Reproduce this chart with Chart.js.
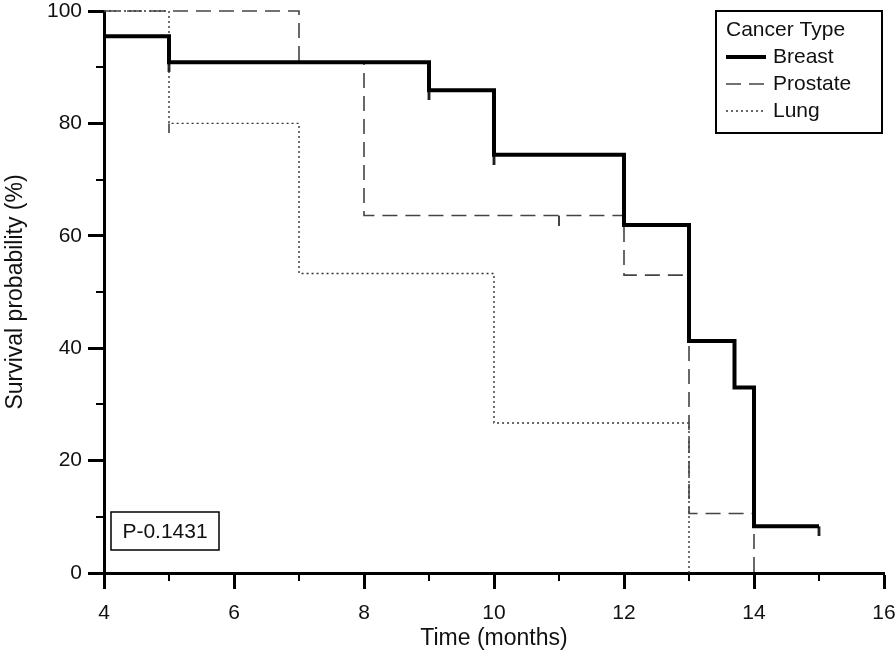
<!DOCTYPE html>
<html lang="en">
<head>
    <meta charset="UTF-8">
    <title>Survival by Cancer Type</title>
    <script src="https://cdn.jsdelivr.net/npm/chart.js"></script>
    <style>
        body { margin: 0; background: #fff; }
    </style>
</head>
<body>
    <canvas id="myChart" width="896" height="656"></canvas>
    <script>
        // Kaplan-Meier steps (time in months, survival %)
        const breastTime = [4, 5, 9, 10, 12, 13, 13.7, 14, 15];
        const breastSurv = [95.5, 90.9, 85.9, 74.4, 61.9, 41.3, 33.0, 8.3, 8.3];
        const prostateTime = [4, 7, 8, 12, 13, 14];
        const prostateSurv = [100, 90.9, 63.6, 53.0, 10.6, 0];
        const lungTime = [4, 5, 7, 10, 13];
        const lungSurv = [100, 80, 53.3, 26.7, 0];

        // censored observations (time only, y taken from the curve)
        const breastCensor = [5, 9, 10, 15];
        const prostateCensor = [11];
        const lungCensor = [5];

        const xMajorTicks = [4, 6, 8, 10, 12, 14, 16];
        const xMinorTicks = [5, 7, 9, 11, 13, 15];
        const yMajorTicks = [0, 20, 40, 60, 80, 100];
        const yMinorTicks = [10, 30, 50, 70, 90];

        const pValueText = 'P-0.1431';
        const legendTitle = 'Cancer Type';
        const FONT = '"Liberation Sans", Arial, sans-serif';

        const toPoints = (xs, ys) => xs.map((x, i) => ({x: x, y: ys[i]}));
        function survAt(xs, ys, t) {
            let v = ys[0];
            xs.forEach((x, i) => { if (x <= t) v = ys[i]; });
            return v;
        }
        // small vertical tick that hangs below the point
        function censorMark(width, len, color) {
            const c = document.createElement('canvas');
            c.width = Math.ceil(width) + 2;
            c.height = len * 2;
            const g = c.getContext('2d');
            g.fillStyle = color;
            g.fillRect((c.width - width) / 2, len, width, len);
            return c;
        }

        const series = [
            {label: 'Breast', xs: breastTime, ys: breastSurv, cens: breastCensor, color: '#000', width: 4, dash: [], mark: censorMark(2.5, 10, '#000')},
            {label: 'Prostate', xs: prostateTime, ys: prostateSurv, cens: prostateCensor, color: '#444', width: 1.6, dash: [15, 8], mark: censorMark(2, 10, '#444')},
            {label: 'Lung', xs: lungTime, ys: lungSurv, cens: lungCensor, color: '#333', width: 1.4, dash: [2, 3], mark: censorMark(1.5, 10, '#333')}
        ];

        const datasets = series.map(s => ({
            label: s.label,
            data: toPoints(s.xs, s.ys),
            stepped: 'before',
            borderColor: s.color,
            borderWidth: s.width,
            borderDash: s.dash,
            pointRadius: 0,
            fill: false,
            clip: 6
        }));
        series.forEach(s => {
            datasets.push({
                label: s.label + ' censored',
                data: s.cens.map(t => ({x: t, y: survAt(s.xs, s.ys, t)})),
                showLine: false,
                pointStyle: s.mark,
                pointRadius: 5,
                clip: 12
            });
        });

        const extras = {
            id: 'extras',
            afterDraw(chart) {
                const {ctx, chartArea, scales} = chart;
                ctx.save();
                // minor ticks
                ctx.strokeStyle = '#000';
                ctx.lineWidth = 2;
                xMinorTicks.forEach(v => {
                    const px = Math.round(scales.x.getPixelForValue(v));
                    ctx.beginPath();
                    ctx.moveTo(px, chartArea.bottom);
                    ctx.lineTo(px, chartArea.bottom + 8);
                    ctx.stroke();
                });
                yMinorTicks.forEach(v => {
                    const py = Math.round(scales.y.getPixelForValue(v));
                    ctx.beginPath();
                    ctx.moveTo(chartArea.left - 8, py);
                    ctx.lineTo(chartArea.left, py);
                    ctx.stroke();
                });

                // legend box
                const lx = 716, ly = 11, lw = 166, lh = 122;
                ctx.lineWidth = 2;
                ctx.strokeStyle = '#000';
                ctx.fillStyle = '#fff';
                ctx.fillRect(lx, ly, lw, lh);
                ctx.strokeRect(lx, ly, lw, lh);
                ctx.fillStyle = '#111';
                ctx.font = '21px ' + FONT;
                ctx.textBaseline = 'middle';
                ctx.textAlign = 'left';
                ctx.fillText(legendTitle, lx + 10, ly + 19);
                series.forEach((s, i) => {
                    const y = ly + 46 + i * 27;
                    ctx.beginPath();
                    ctx.strokeStyle = s.color;
                    ctx.lineWidth = s.width;
                    ctx.setLineDash(s.dash);
                    ctx.moveTo(lx + 10, y);
                    ctx.lineTo(lx + 50, y);
                    ctx.stroke();
                    ctx.setLineDash([]);
                    ctx.fillText(s.label, lx + 57, y);
                });

                // p-value box
                ctx.lineWidth = 1.5;
                ctx.strokeStyle = '#000';
                ctx.strokeRect(111, 512, 108, 38);
                ctx.textAlign = 'center';
                ctx.font = '21px ' + FONT;
                ctx.fillText(pValueText, 165, 532);
                ctx.restore();
            }
        };

        new Chart(document.getElementById('myChart'), {
            type: 'line',
            data: {datasets: datasets},
            plugins: [extras],
            options: {
                responsive: false,
                animation: false,
                layout: {padding: {top: 11, right: 12, left: 0, bottom: 0}},
                plugins: {legend: {display: false}, tooltip: {enabled: false}},
                scales: {
                    x: {
                        type: 'linear',
                        min: 4,
                        max: 16,
                        afterBuildTicks: scale => { scale.ticks = xMajorTicks.map(v => ({value: v})); },
                        afterFit: scale => { scale.height = 83; scale.paddingLeft = 0; scale.paddingRight = 0; },
                        ticks: {font: {size: 21, family: FONT}, color: '#111', padding: 12, maxRotation: 0},
                        grid: {drawOnChartArea: false, tickLength: 16, tickWidth: 3, tickColor: '#000'},
                        border: {width: 3, color: '#000'},
                        title: {display: true, text: 'Time (months)', font: {size: 23, family: FONT}, color: '#111', padding: {top: 0, bottom: 4}}
                    },
                    y: {
                        min: 0,
                        max: 100,
                        afterBuildTicks: scale => { scale.ticks = yMajorTicks.map(v => ({value: v})); },
                        afterFit: scale => { scale.width = 104; scale.paddingTop = 0; scale.paddingBottom = 0; },
                        ticks: {font: {size: 21, family: FONT}, color: '#111', padding: 6},
                        grid: {drawOnChartArea: false, tickLength: 16, tickWidth: 3, tickColor: '#000'},
                        border: {width: 3, color: '#000'},
                        title: {display: true, text: 'Survival probability (%)', font: {size: 23, family: FONT}, color: '#111', padding: {top: 2, bottom: 0}}
                    }
                }
            }
        });
    </script>
</body>
</html>
